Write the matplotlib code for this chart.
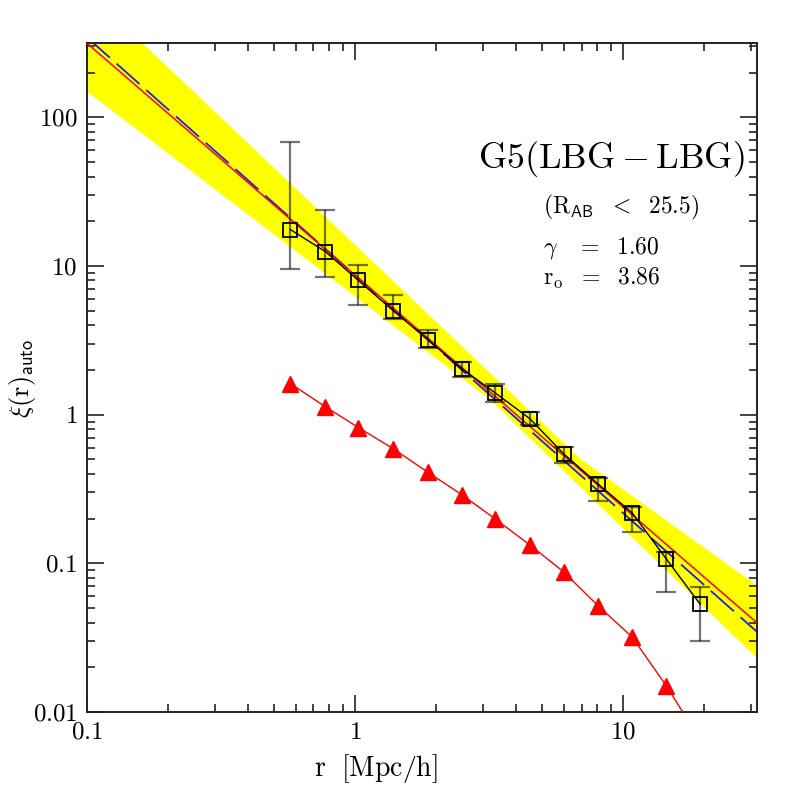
import numpy as np
import matplotlib
matplotlib.use("Agg")
import matplotlib.pyplot as plt
from matplotlib.ticker import LogLocator, FuncFormatter, NullFormatter

plt.rcParams['mathtext.fontset'] = 'cm'
plt.rcParams['font.family'] = ['serif']
plt.rcParams['font.serif'] = ['cmr10', 'DejaVu Serif']
plt.rcParams['axes.formatter.use_mathtext'] = True

# ---- data ----
r_sep = [0.574, 0.776, 1.03, 1.39, 1.87, 2.50, 3.32, 4.49, 6.0, 8.05, 10.8, 14.5, 19.4]
xi_lbg = [17.6, 12.5, 8.0, 5.0, 3.2, 2.04, 1.41, 0.94, 0.546, 0.343, 0.219, 0.107, 0.053]
xi_err_hi = [68.0, 24.0, 10.1, 6.4, 3.7, 2.27, 1.62, 1.05, 0.61, 0.377, 0.24, 0.12, 0.069]
xi_err_lo = [9.5, 8.5, 5.5, 4.4, 2.8, 1.8, 1.22, 0.85, 0.47, 0.264, 0.163, 0.064, 0.030]
xi_dm = [1.62, 1.13, 0.82, 0.59, 0.41, 0.29, 0.20, 0.133, 0.0877, 0.052, 0.032, 0.015, 0.0065]

# power-law fits
fit_r0, fit_gamma = 3.86, 1.60          # blue dashed (quoted fit)
alt_r0, alt_gamma = 4.0, 1.56           # red solid

# confidence band edges
band_up_r = [0.1, 6.9, 31.6]
band_up_xi = [716.0, 0.509, 0.071]
band_lo_r = [0.1, 3.2, 31.6]
band_lo_xi = [150.0, 1.26, 0.023]

x_ticks = [0.1, 1, 10]
y_ticks = [0.01, 0.1, 1, 10, 100]
xlim = (0.1, 10**1.5)
ylim = (0.01, 10**2.5)

# ---- figure ----
fig = plt.figure(figsize=(7.97, 7.97), dpi=100)
ax = fig.add_axes([0.109, 0.1066, 0.841, 0.8394])
ax.set_xscale('log')
ax.set_yscale('log')

rr = np.logspace(-1, 1.5, 400)
up = 10**np.interp(np.log10(rr), np.log10(band_up_r), np.log10(band_up_xi))
lo = 10**np.interp(np.log10(rr), np.log10(band_lo_r), np.log10(band_lo_xi))
ax.fill_between(rr, lo, up, color='#ffff00', lw=0, zorder=1)

ax.plot(rr, (rr / fit_r0)**(-fit_gamma), color='#2020e0', lw=1.3,
        dashes=(17, 5), zorder=2)
ax.plot(rr, (rr / alt_r0)**(-alt_gamma), color='#ff0000', lw=1.1, zorder=3)

r_arr = np.array(r_sep)
xi_arr = np.array(xi_lbg)
yerr = [xi_arr - np.array(xi_err_lo), np.array(xi_err_hi) - xi_arr]
ax.errorbar(r_arr, xi_arr, yerr=yerr, fmt='none', ecolor=(0, 0, 0, 0.55),
            elinewidth=1.6, capsize=7, capthick=1.6, zorder=4)
ax.plot(r_arr, xi_arr, color='black', lw=1.0, zorder=5)
ax.plot(r_arr, xi_arr, ls='none', marker='s', ms=9.5, mfc='none',
        mec='black', mew=1.3, zorder=6)

ax.plot(r_arr, xi_dm, color='#ff0000', lw=1.0, marker='^', ms=11.5,
        mfc='#ff0000', mec='#ff0000', zorder=5)

ax.set_xlim(*xlim)
ax.set_ylim(*ylim)

ax.xaxis.set_minor_locator(LogLocator(base=10, subs=np.arange(2, 10)))
ax.yaxis.set_minor_locator(LogLocator(base=10, subs=np.arange(2, 10)))
ax.set_xticks(x_ticks)
ax.set_yticks(y_ticks)
fmt = FuncFormatter(lambda v, p: r'$%s$' % ('%g' % v))
ax.xaxis.set_major_formatter(fmt)
ax.yaxis.set_major_formatter(fmt)
ax.xaxis.set_minor_formatter(NullFormatter())
ax.yaxis.set_minor_formatter(NullFormatter())
ax.tick_params(which='both', direction='in', top=True, right=True,
               width=1.2, colors='#222222', labelcolor='black')
ax.tick_params(which='major', length=12, labelsize=18, pad=7)
ax.tick_params(which='minor', length=6)
for s in ax.spines.values():
    s.set_linewidth(1.4)
    s.set_color('#222222')

fig.text(376 / 797, 1 - 776 / 797, r'$\mathrm{r\ \ [Mpc/h]}$', fontsize=20,
         ha='center', va='baseline')
fig.text(22 / 797, 1 - 378 / 797, r'$\xi(\mathrm{r})_{\mathsf{auto}}$',
         fontsize=19, rotation=90, ha='center', va='center')

ax.text(0.584, 0.813, r'$\mathrm{G5(LBG}-\mathrm{LBG)}$', transform=ax.transAxes,
        fontsize=26, ha='left', va='baseline')
ax.text(0.681, 0.746, r'$(\mathrm{R}_{\mathsf{AB}}\ \ <\ \ 25.5)$', transform=ax.transAxes,
        fontsize=17, ha='left', va='baseline')
ax.text(0.681, 0.686, r'$\gamma\ \ \ =\ \ 1.60$', transform=ax.transAxes,
        fontsize=17, ha='left', va='baseline')
ax.text(0.681, 0.638, r'$\mathrm{r_o}\ \ =\ \ 3.86$', transform=ax.transAxes,
        fontsize=17, ha='left', va='baseline')

fig.savefig('out.png', dpi=100)
